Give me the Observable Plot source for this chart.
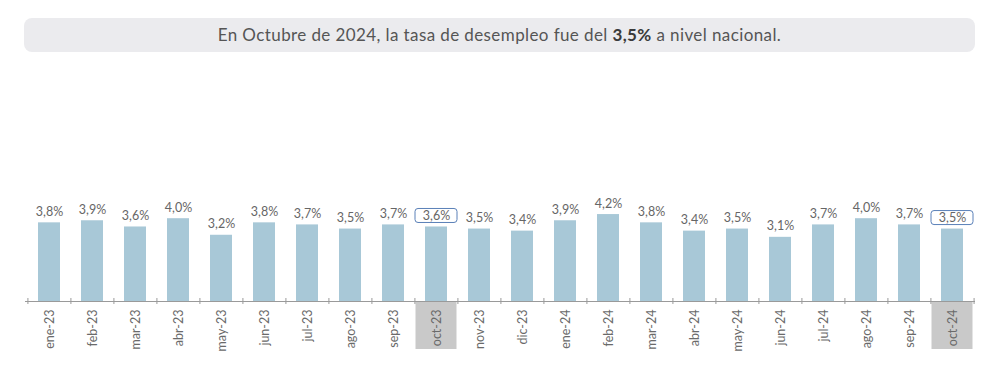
<!DOCTYPE html>
<html><head><meta charset="utf-8">
<script src="https://cdn.jsdelivr.net/npm/d3@7"></script>
<script src="https://cdn.jsdelivr.net/npm/@observablehq/plot@0.6"></script>
<style>
html,body{margin:0;padding:0;background:#fff;width:1000px;height:391px;overflow:hidden;font-family:"Lato",sans-serif;}
#hdr{position:absolute;left:24px;top:18px;width:951px;height:34px;background:#ebebee;border-radius:8px;
 display:flex;align-items:center;justify-content:center;font-size:17px;color:#555;letter-spacing:0.4px;}
#hdr span{position:relative;top:-1px;}
#hdr b{color:#3a3a3a;}
#chart{position:absolute;left:0;top:60px;}
</style></head>
<body>
<div id="hdr"><span>En Octubre de 2024, la tasa de desempleo fue del <b>3,5%</b> a nivel nacional.</span></div>
<div id="chart"></div>
<script>
const months = ["ene-23","feb-23","mar-23","abr-23","may-23","jun-23","jul-23","ago-23","sep-23","oct-23","nov-23","dic-23",
                "ene-24","feb-24","mar-24","abr-24","may-24","jun-24","jul-24","ago-24","sep-24","oct-24"];
const rates = [3.8,3.9,3.6,4.0,3.2,3.8,3.7,3.5,3.7,3.6,3.5,3.4,3.9,4.2,3.8,3.4,3.5,3.1,3.7,4.0,3.7,3.5];
const highlighted = ["oct-23","oct-24"];

const data = months.map((m,i)=>({month:m, rate:rates[i], hi: highlighted.includes(m)}));
const hiData = data.filter(d=>d.hi);
const fmt = v => d3.format(".1f")(v).replace(".",",") + "%";
const W = 1000, mL = 25, mR = 25;
const step = (W - mL - mR) / months.length;

const chart = Plot.plot({
  width: W, height: 331,
  marginLeft: mL, marginRight: mR, marginTop: 137.5, marginBottom: 90,
  style: {fontFamily: "Lato, sans-serif", color: "#666", background: "transparent"},
  x: {domain: months, paddingInner: 0.5, paddingOuter: 0.25, label: null},
  y: {domain: [0, 5], axis: null},
  marks: [
    Plot.barY(hiData, {x: "month", y1: 0, y2: 0, insetBottom: -48, insetLeft: -9.5, insetRight: -9.5, fill: "#c9c9c9"}),
    Plot.barY(data, {x: "month", y: "rate", fill: "#a8c8d7"}),
    Plot.ruleY([0], {stroke: "#9a9a9a", strokeWidth: 1.2}),
    Plot.ruleX(months, {x: d=>d, dx: -step/2, y1: 0, y2: 0, insetTop: -3, insetBottom: -3, stroke: "#9a9a9a"}),
    Plot.ruleX([months[months.length-1]], {x: d=>d, dx: step/2, y1: 0, y2: 0, insetTop: -3, insetBottom: -3, stroke: "#9a9a9a"}),
    Plot.axisX({tickRotate: -90, tickSize: 0, tickPadding: 8, fontSize: 12.5, fill: "#6a6a6a", label: null}),
    Plot.barY(hiData, {x: "month", y1: "rate", y2: "rate", insetTop: -18, insetBottom: 4, insetLeft: -10, insetRight: -10,
      fill: "white", stroke: "#5a80b8", strokeWidth: 1, rx: 3}),
    Plot.text(data, {x: "month", y: "rate", text: d=>fmt(d.rate), dy: -11, fontSize: 12.5, fill: "#666"})
  ]
});
document.getElementById("chart").append(chart);
</script>
</body></html>
